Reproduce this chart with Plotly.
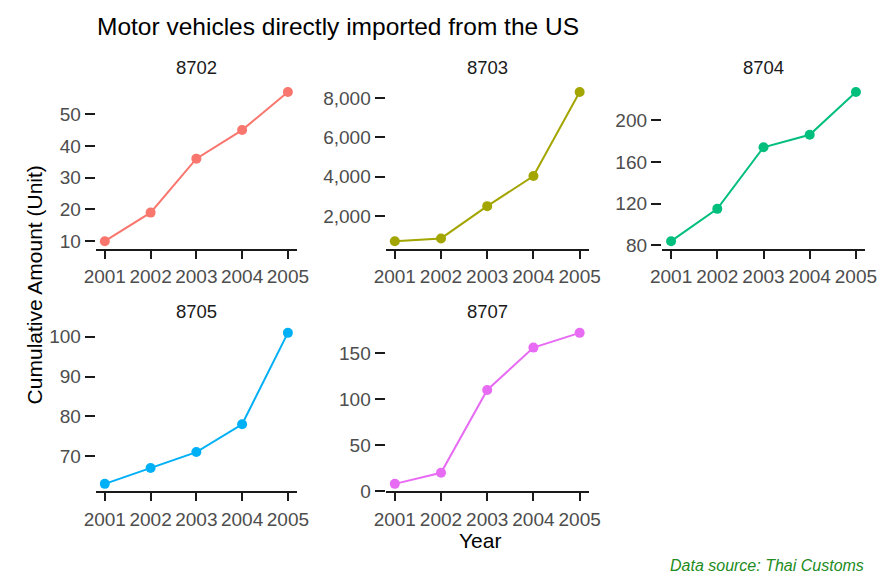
import plotly.graph_objects as go

years = [2001, 2002, 2003, 2004, 2005]
codes = ["8702", "8703", "8704", "8705", "8707"]
v8702 = [10, 19, 36, 45, 57]
v8703 = [720, 860, 2500, 4030, 8300]
v8704 = [84, 115, 174, 186, 227]
v8705 = [63, 67, 71, 78, 101]
v8707 = [8, 20, 110, 156, 172]
series = [v8702, v8703, v8704, v8705, v8707]
colors = ["#F8766D", "#A3A500", "#00BF7D", "#00B0F6", "#E76BF3"]
dticks = [10, 2000, 40, 10, 50]

W, H = 883, 582
xdoms_px = [(86, 293), (384, 593), (668, 877), (86, 293), (384, 593)]
ydoms_px = [(86, 253), (86, 253), (86, 253), (331, 500), (331, 500)]
strip_y = [69, 69, 69, 317, 317]

fig = go.Figure()
FONT = "Liberation Sans, Arial, Helvetica, sans-serif"
anns = []
for i, (code, vals, col) in enumerate(zip(codes, series, colors)):
    n = i + 1
    xa = "x" if n == 1 else f"x{n}"
    ya = "y" if n == 1 else f"y{n}"
    fig.add_trace(go.Scatter(x=years, y=vals, mode="lines+markers",
                             line=dict(color=col, width=2),
                             marker=dict(color=col, size=10),
                             xaxis=xa, yaxis=ya, showlegend=False, cliponaxis=False))
    lo, hi = min(vals), max(vals)
    pad = (hi - lo) * 0.05
    x0, x1 = xdoms_px[i]
    yt, yb = ydoms_px[i]
    xd = [x0 / W, x1 / W]
    yd = [1 - yb / H, 1 - yt / H]
    xkey = "xaxis" if n == 1 else f"xaxis{n}"
    ykey = "yaxis" if n == 1 else f"yaxis{n}"
    fig.layout[xkey] = dict(domain=xd, anchor=ya, range=[2000.8, 2005.2],
                            dtick=1, tick0=2001, tickformat="d",
                            showgrid=False, zeroline=False, showline=True,
                            linecolor="#1a1a1a", linewidth=2,
                            ticks="outside", ticklen=8, tickwidth=2, tickcolor="#1a1a1a",
                            ticklabelstandoff=2,
                            tickfont=dict(size=19, color="#4d4d4d", family=FONT))
    fig.layout[ykey] = dict(domain=yd, anchor=xa, range=[lo - pad, hi + pad],
                            dtick=dticks[i], tick0=0, tickformat=",",
                            showgrid=False, zeroline=False, showline=False,
                            ticks="outside", ticklen=10, tickwidth=2, tickcolor="#1a1a1a",
                            tickfont=dict(size=19, color="#4d4d4d", family=FONT))
    anns.append(dict(text=code, x=(xd[0] + xd[1]) / 2, y=1 - strip_y[i] / H,
                     xref="paper", yref="paper", showarrow=False,
                     xanchor="center", yanchor="middle",
                     font=dict(size=18.5, color="#1a1a1a", family=FONT)))

anns.append(dict(text="Motor vehicles directly imported from the US", x=85 / W, y=1 - 27 / H,
                 xref="paper", yref="paper", showarrow=False, xanchor="left", yanchor="middle",
                 font=dict(size=24.5, color="black", family=FONT)))
anns.append(dict(text="Year", x=481 / W, y=1 - 550 / H, xref="paper", yref="paper",
                 showarrow=False, xanchor="center", yanchor="middle",
                 font=dict(size=21, color="black", family=FONT)))
anns.append(dict(text="Cumulative Amount (Unit)", x=23 / W, y=1 - 290 / H, xref="paper", yref="paper",
                 showarrow=False, xanchor="center", yanchor="middle", textangle=-90,
                 font=dict(size=21, color="black", family=FONT)))
anns.append(dict(text="<i>Data source: Thai Customs</i>", x=878 / W, y=1 - 575 / H, xref="paper", yref="paper",
                 showarrow=False, xanchor="right", yanchor="middle",
                 font=dict(size=16, color="#228B22", family=FONT)))

fig.update_layout(width=W, height=H, margin=dict(l=0, r=0, t=0, b=0),
                  paper_bgcolor="white", plot_bgcolor="white",
                  annotations=anns, font=dict(family=FONT))
fig.write_html("out.html")
